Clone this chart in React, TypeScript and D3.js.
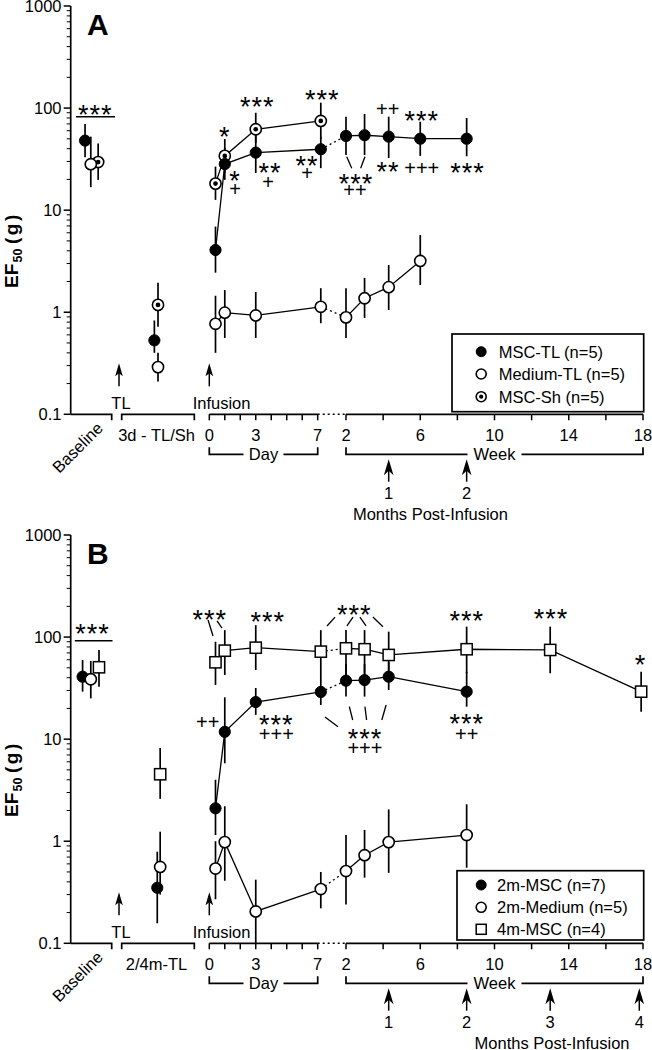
import React from 'react';
import * as d3 from 'd3';

type Seg = 'base' | 'pre' | 'day' | 'week';
type Row = [Seg, number, number, number, number]; // segment, time, mean, upper, lower
type Ann = [Seg, number, number, string]; // segment, time, value(center), text
type Lead = [Seg, number, number, number, number]; // segment, t1, v1, t2, v2
type Kind = 'filled' | 'open' | 'dot' | 'square';

const FONT = "'Liberation Sans', Arial, Helvetica, sans-serif";

// ---------- axis data
const Y_TICKS = [0.1, 1, 10, 100, 1000];
const Y_TICK_LABELS = ['0.1', '1', '10', '100', '1000'];
const DAY_TICKS = [0, 1, 2, 3, 4, 5, 6, 7];
const DAY_LABELS = [0, 3, 7];
const WEEK_TICKS = [2, 4, 6, 8, 10, 12, 14, 16, 18];
const WEEK_LABELS = [2, 6, 10, 14, 18];
const CATS_A = ['Baseline', '3d - TL/Sh'];
const CATS_B = ['Baseline', '2/4m-TL'];
const MONTHS_A = ['1', '2'];
const MONTH_WEEKS_A = [4.3, 8.5];
const MONTHS_B = ['1', '2', '3', '4'];
const MONTH_WEEKS_B = [4.3, 8.5, 13, 17.8];

// ---------- panel A series
const A_MSC_TL: Row[] = [
  ['base', 0.35, 48, 70, 33],
  ['pre', 0.45, 0.53, 0.83, 0.4],
  ['day', 0.4, 4.07, 6.9, 2.44],
  ['day', 1, 28.3, 40.7, 19.8],
  ['day', 3, 36.6, 61, 23.1],
  ['day', 7.2, 39.5, 52.5, 25.8],
  ['week', 2, 53.3, 82.4, 34.7],
  ['week', 3, 54.2, 87.5, 34.7],
  ['week', 4.3, 52.5, 82.4, 32.4],
  ['week', 6, 50.1, 73.6, 34],
  ['week', 8.5, 50.1, 80, 33.7],
];
const A_MED_TL: Row[] = [
  ['base', 0.49, 28.2, 52.5, 16.8],
  ['pre', 0.5, 0.29, 0.4, 0.21],
  ['day', 0.4, 0.77, 1.45, 0.4],
  ['day', 1, 0.99, 1.65, 0.56],
  ['day', 3, 0.93, 1.58, 0.56],
  ['day', 7.2, 1.13, 1.72, 0.78],
  ['week', 2, 0.89, 1.72, 0.56],
  ['week', 3, 1.37, 2.17, 0.88],
  ['week', 4.3, 1.76, 2.9, 1.05],
  ['week', 6, 3.18, 5.7, 1.85],
];
const A_MSC_SH: Row[] = [
  ['base', 0.67, 29.6, 45, 19.8],
  ['pre', 0.5, 1.18, 1.94, 0.72],
  ['day', 0.4, 18.2, 26.7, 12.6],
  ['day', 1, 34, 49.8, 23.1],
  ['day', 3, 62, 90, 45.5],
  ['day', 7.2, 74.8, 113, 49.8],
];

// ---------- panel B series
const B_MSC_2M: Row[] = [
  ['base', 0.29, 40.9, 59.7, 29.2],
  ['pre', 0.49, 0.35, 0.79, 0.157],
  ['day', 0.4, 2.1, 4.0, 1.15],
  ['day', 1, 11.8, 25.7, 5.8],
  ['day', 3, 23.1, 31.7, 17.3],
  ['day', 7.2, 29, 42.5, 21.6],
  ['week', 2, 37.4, 54.5, 26.1],
  ['week', 3, 37.9, 54.5, 26.1],
  ['week', 4.3, 40.9, 57, 30.3],
  ['week', 8.5, 29.2, 45.8, 20.8],
];
const B_MED_2M: Row[] = [
  ['base', 0.49, 38.6, 58.4, 25.1],
  ['pre', 0.53, 0.56, 1.24, 0.3],
  ['day', 0.4, 0.54, 1.0, 0.27],
  ['day', 1, 0.98, 2.2, 0.41],
  ['day', 3, 0.205, 0.42, 0.1],
  ['day', 7.2, 0.34, 0.5, 0.22],
  ['week', 2, 0.51, 1.15, 0.24],
  ['week', 3, 0.73, 1.29, 0.44],
  ['week', 4.3, 0.98, 2.05, 0.49],
  ['week', 8.5, 1.15, 2.3, 0.55],
];
const B_MSC_4M: Row[] = [
  ['base', 0.69, 50.6, 74.8, 32.7],
  ['pre', 0.53, 4.53, 8.2, 2.6],
  ['day', 0.4, 56.6, 90, 34],
  ['day', 1, 73.6, 117, 42.5],
  ['day', 3, 78.7, 131, 47.6],
  ['day', 7.2, 72, 117, 42.5],
  ['week', 2, 77.6, 117, 42.5],
  ['week', 3, 76, 117, 42.5],
  ['week', 4.3, 66.8, 113, 38],
  ['week', 8.5, 76, 126.5, 44.2],
  ['week', 13, 74.8, 126.5, 44.2],
  ['week', 17.9, 29.2, 45.8, 18.6],
];

// ---------- significance annotations
const ANN_A: Ann[] = [
  ['base', 0.6, 100, '***'],
  ['day', 1, 61, '*'],
  ['day', 3.1, 120, '***'],
  ['day', 7.3, 141, '***'],
  ['day', 1.66, 22.6, '*'],
  ['day', 1.66, 16.1, '+'],
  ['day', 3.92, 27.1, '**'],
  ['day', 3.79, 18.9, '+'],
  ['day', 6.31, 31.7, '**'],
  ['day', 6.31, 23.1, '+'],
  ['week', 4.25, 98, '++'],
  ['week', 6.08, 87.5, '***'],
  ['week', 2.54, 21.3, '***'],
  ['week', 2.48, 15.8, '++'],
  ['week', 4.26, 27.7, '**'],
  ['week', 6.08, 26.1, '+++'],
  ['week', 8.54, 27.1, '***'],
];
const LEAD_A: Lead[] = [
  ['week', 2.04, 33.4, 2.31, 25.7],
  ['week', 3.02, 33.4, 2.79, 25.7],
];
const ANN_B: Ann[] = [
  ['base', 0.53, 126.5, '***'],
  ['day', 0.03, 171, '***'],
  ['day', 3.77, 164.6, '***'],
  ['week', 2.45, 191, '***'],
  ['week', 8.5, 168, '***'],
  ['week', 13.04, 177, '***'],
  ['week', 17.87, 62, '*'],
  ['day', -0.1, 14.8, '++'],
  ['day', 4.33, 16.0, '***'],
  ['day', 4.33, 11.2, '+++'],
  ['week', 3.02, 11.8, '***'],
  ['week', 3.02, 8.15, '+++'],
  ['week', 8.5, 16.4, '***'],
  ['week', 8.5, 11.2, '++'],
];
const LEAD_B: Lead[] = [
  ['day', -0.08, 147, 0.24, 102.5],
  ['day', 0.5, 144, 0.82, 122.7],
  ['day', 8.12, 157, 7.6, 128.5],
  ['week', 2.38, 157, 2.05, 128.5],
  ['week', 2.75, 157, 3.08, 128.5],
  ['week', 3.45, 157, 3.99, 126],
  ['day', 7.47, 16.5, 8.31, 13.2],
  ['week', 2.18, 20.8, 2.36, 15.4],
  ['week', 3.02, 20.8, 3.11, 15.4],
  ['week', 4.16, 21.6, 3.93, 15.4],
];
// baseline bar under the baseline stars: [t1, t2, value]
const BAR_A: [number, number, number] = [0.13, 1.08, 82.4];
const BAR_B: [number, number, number] = [0.1, 1.02, 92.2];

// ---------- x scales (shared by both panels)
const baseX = d3.scaleLinear().domain([0, 1]).range([70.7, 111.7]);
const preX = d3.scaleLinear().domain([0, 1]).range([121.7, 194.3]);
const dayX = d3.scaleLinear().domain([0, 7]).range([209.3, 317.7]);
const weekX = d3.scaleLinear().domain([2, 18]).range([346, 643]);
const xOf = (s: Seg, t: number) =>
  s === 'base' ? baseX(t) : s === 'pre' ? preX(t) : s === 'day' ? dayX(t) : weekX(t);

function Marker({ kind, x, y, r = 5.6 }: { kind: Kind; x: number; y: number; r?: number }) {
  if (kind === 'filled') return <circle cx={x} cy={y} r={r} fill="#000" stroke="#000" strokeWidth={1} />;
  if (kind === 'open') return <circle cx={x} cy={y} r={r} fill="#fff" stroke="#000" strokeWidth={1.6} />;
  if (kind === 'dot')
    return (
      <g>
        <circle cx={x} cy={y} r={r} fill="#fff" stroke="#000" strokeWidth={1.6} />
        <circle cx={x} cy={y} r={r * 0.42} fill="#000" />
      </g>
    );
  return <rect x={x - r} y={y - r} width={2 * r} height={2 * r} fill="#fff" stroke="#000" strokeWidth={1.5} />;
}

interface SeriesCfg { name: string; rows: Row[]; kind: Kind; }
interface PanelCfg {
  top: number;
  letter: string;
  cats: string[];
  series: SeriesCfg[];
  drawOrder: number[];
  ann: Ann[];
  leads: Lead[];
  bar: [number, number, number];
  months: string[];
  monthWeeks: number[];
  monthsLabelX: number;
  legend: { x: number; y: number; w: number; h: number; rowY: number[]; textX: number };
}

function Panel({ cfg }: { cfg: PanelCfg }) {
  const top = cfg.top;
  const y = d3.scaleLog().domain([0.1, 1000]).range([top + 414.3, top + 6]);
  const axY = y(0.1);
  const line = d3.line<Row>().x((r) => xOf(r[0], r[1])).y((r) => y(r[2]));
  const minor: number[] = [];
  [0.1, 1, 10, 100].forEach((d) => { for (let k = 2; k <= 9; k++) minor.push(d * k); });
  const sw = 1.7;
  const txt = { fontFamily: FONT, fontSize: 16.5, fill: '#000' } as const;

  const annText = (a: Ann, i: number) => {
    const isStar = a[3].includes('*');
    const fs = isStar ? 27 : 20;
    const off = isStar ? 0.589 * fs : 0.354 * fs;
    return (
      <text key={'an' + i} x={xOf(a[0], a[1])} y={y(a[2]) + off} textAnchor="middle"
        fontFamily={FONT} fontSize={fs} letterSpacing={isStar ? 1 : 0}>{a[3]}</text>
    );
  };

  const arrowUp = (x: number, tip: number, bot: number, key: string) => (
    <g key={key}>
      <line x1={x} y1={tip + 8} x2={x} y2={bot} stroke="#000" strokeWidth={1.5} />
      <path d={`M${x},${tip} L${x - 3.8},${tip + 13} L${x},${tip + 10} L${x + 3.8},${tip + 13} Z`} fill="#000" />
    </g>
  );
  const monthArrow = (x: number, key: string) => (
    <g key={key}>
      <line x1={x} y1={axY + 55} x2={x} y2={axY + 67.4} stroke="#000" strokeWidth={1.5} />
      <path d={`M${x},${axY + 45} L${x - 4.8},${axY + 61} L${x},${axY + 56.5} L${x + 4.8},${axY + 61} Z`} fill="#000" />
    </g>
  );

  const bracket = (x1: number, x2: number, label: string, gap: number) => {
    const by = axY + 40;
    const cx = (x1 + x2) / 2;
    return (
      <g>
        <path d={`M${x1},${by - 7} V${by} H${cx - gap / 2} M${cx + gap / 2},${by} H${x2} V${by - 7}`}
          fill="none" stroke="#000" strokeWidth={sw} />
        <text x={cx} y={by + 6} textAnchor="middle" {...txt}>{label}</text>
      </g>
    );
  };

  const L = cfg.legend;
  return (
    <g>
      {/* panel letter */}
      <text x={87} y={top + 35} fontFamily={FONT} fontWeight="bold" fontSize={30}>{cfg.letter}</text>
      {/* y axis */}
      <line x1={70.7} y1={y(1000)} x2={70.7} y2={axY} stroke="#000" strokeWidth={sw} />
      {Y_TICKS.map((v, i) => (
        <g key={'yt' + i}>
          <line x1={63.7} x2={70.7} y1={y(v)} y2={y(v)} stroke="#000" strokeWidth={1.5} />
          <text x={61.5} y={y(v) + 5.9} textAnchor="end" {...txt}>{Y_TICK_LABELS[i]}</text>
        </g>
      ))}
      {minor.map((v, i) => (
        <line key={'ym' + i} x1={66.7} x2={70.7} y1={y(v)} y2={y(v)} stroke="#000" strokeWidth={1} />
      ))}
      <g transform={`translate(18,${top + 288}) rotate(-90)`} fontFamily={FONT} fontWeight="bold">
        <text x={0} y={0} fontSize={19}>EF</text>
        <text x={25.5} y={4} fontSize={12.5}>50</text>
        <text x={44} y={0} fontSize={19} letterSpacing={2.5}>{'(g)'}</text>
      </g>

      {/* x axis segments */}
      <path d={`M70.7,${axY} H${baseX(1)} v6`} fill="none" stroke="#000" strokeWidth={sw} />
      <path d={`M${preX(0)},${axY + 6} v-6 H${preX(1)} v6`} fill="none" stroke="#000" strokeWidth={sw} />
      <line x1={dayX(0)} x2={dayX(7)} y1={axY} y2={axY} stroke="#000" strokeWidth={sw} />
      {DAY_TICKS.map((d) => (
        <line key={'dt' + d} x1={dayX(d)} x2={dayX(d)} y1={axY} y2={axY + 6} stroke="#000" strokeWidth={1.5} />
      ))}
      <line x1={dayX(7)} x2={weekX(2)} y1={axY} y2={axY} stroke="#000" strokeWidth={1.5} strokeDasharray="2,3" />
      <line x1={weekX(2)} x2={weekX(18)} y1={axY} y2={axY} stroke="#000" strokeWidth={sw} />
      {WEEK_TICKS.map((w) => (
        <line key={'wt' + w} x1={weekX(w)} x2={weekX(w)} y1={axY} y2={axY + 6} stroke="#000" strokeWidth={1.5} />
      ))}
      {DAY_LABELS.map((d) => (
        <text key={'dl' + d} x={dayX(d)} y={axY + 26.6} textAnchor="middle" {...txt}>{d}</text>
      ))}
      {WEEK_LABELS.map((w) => (
        <text key={'wl' + w} x={weekX(w)} y={axY + 26.6} textAnchor="middle" {...txt}>{w}</text>
      ))}
      <text transform={`translate(104,${axY + 15}) rotate(-45)`} textAnchor="end" {...txt}>{cfg.cats[0]}</text>
      <text x={preX(0.48)} y={axY + 26.6} textAnchor="middle" {...txt}>{cfg.cats[1]}</text>
      {bracket(dayX(0), dayX(7), 'Day', 40)}
      {bracket(weekX(2), weekX(18), 'Week', 54)}

      {/* TL / infusion arrows */}
      {arrowUp(119, axY - 51, axY - 28, 'tl')}
      {arrowUp(dayX(0), axY - 51, axY - 28, 'inf')}
      <text x={121} y={axY - 5} textAnchor="middle" {...txt}>TL</text>
      <text x={192.7} y={axY - 5} {...txt}>Infusion</text>

      {/* months */}
      {cfg.monthWeeks.map((w, i) => monthArrow(weekX(w), 'ma' + i))}
      {cfg.monthWeeks.map((w, i) => (
        <text key={'ml' + i} x={weekX(w)} y={axY + 84.3} textAnchor="middle" {...txt}>{cfg.months[i]}</text>
      ))}
      <text x={cfg.monthsLabelX} y={axY + 105.5} textAnchor="middle" {...txt}>Months Post-Infusion</text>

      {/* legend */}
      <rect x={L.x} y={axY + L.y} width={L.w} height={L.h} fill="#fff" stroke="#000" strokeWidth={sw} />
      {cfg.series.map((s, i) => (
        <g key={'lg' + i}>
          <Marker kind={s.kind} x={481.2} y={axY + L.rowY[i]} r={5} />
          <text x={L.textX} y={axY + L.rowY[i] + 5.9} {...txt}>{s.name}</text>
        </g>
      ))}

      {/* baseline significance bar */}
      <line x1={baseX(cfg.bar[0])} x2={baseX(cfg.bar[1])} y1={y(cfg.bar[2])} y2={y(cfg.bar[2])} stroke="#000" strokeWidth={1.5} />
      {cfg.ann.map(annText)}
      {cfg.leads.map((l, i) => (
        <line key={'ld' + i} x1={xOf(l[0], l[1])} y1={y(l[2])} x2={xOf(l[0], l[3])} y2={y(l[4])} stroke="#000" strokeWidth={1.3} />
      ))}

      {/* connecting lines */}
      {cfg.series.map((s, i) => {
        const days = s.rows.filter((r) => r[0] === 'day');
        const weeks = s.rows.filter((r) => r[0] === 'week');
        return (
          <g key={'ln' + i} fill="none" stroke="#000" strokeWidth={1.3}>
            {days.length > 1 && <path d={line(days) || ''} />}
            {weeks.length > 1 && <path d={line(weeks) || ''} />}
            {days.length > 0 && weeks.length > 0 && (
              <path d={line([days[days.length - 1], weeks[0]]) || ''} strokeDasharray="2,3" />
            )}
          </g>
        );
      })}
      {/* error bars */}
      {cfg.series.map((s, i) => (
        <g key={'eb' + i} stroke="#000" strokeWidth={1.7}>
          {s.rows.map((r, j) => (
            <line key={j} x1={xOf(r[0], r[1])} x2={xOf(r[0], r[1])} y1={y(r[3])} y2={y(r[4])} />
          ))}
        </g>
      ))}
      {/* markers */}
      {cfg.drawOrder.map((si) => (
        <g key={'mk' + si}>
          {cfg.series[si].rows.map((r, j) => (
            <Marker key={j} kind={cfg.series[si].kind} x={xOf(r[0], r[1])} y={y(r[2])} />
          ))}
        </g>
      ))}
    </g>
  );
}

const PANEL_A: PanelCfg = {
  top: 0,
  letter: 'A',
  cats: CATS_A,
  series: [
    { name: 'MSC-TL (n=5)', rows: A_MSC_TL, kind: 'filled' },
    { name: 'Medium-TL (n=5)', rows: A_MED_TL, kind: 'open' },
    { name: 'MSC-Sh (n=5)', rows: A_MSC_SH, kind: 'dot' },
  ],
  drawOrder: [2, 1, 0],
  ann: ANN_A,
  leads: LEAD_A,
  bar: BAR_A,
  months: MONTHS_A,
  monthWeeks: MONTH_WEEKS_A,
  monthsLabelX: weekX(6.55),
  legend: { x: 452, y: -80.3, w: 191.7, h: 77.7, rowY: [-62.6, -40.3, -17.6], textX: 498.7 },
};

const PANEL_B: PanelCfg = {
  top: 529,
  letter: 'B',
  cats: CATS_B,
  series: [
    { name: '2m-MSC (n=7)', rows: B_MSC_2M, kind: 'filled' },
    { name: '2m-Medium (n=5)', rows: B_MED_2M, kind: 'open' },
    { name: '4m-MSC (n=4)', rows: B_MSC_4M, kind: 'square' },
  ],
  drawOrder: [0, 1, 2],
  ann: ANN_B,
  leads: LEAD_B,
  bar: BAR_B,
  months: MONTHS_B,
  monthWeeks: MONTH_WEEKS_B,
  monthsLabelX: weekX(13.1),
  legend: { x: 457, y: -72.6, w: 186.7, h: 69.3, rowY: [-58.3, -36, -14], textX: 497 },
};

export default function App() {
  return (
    <svg width={652} height={1050} viewBox="0 0 652 1050"
      style={{ position: 'absolute', left: 0, top: 0, background: '#fff' }}>
      <rect x={0} y={0} width={652} height={1050} fill="#fff" />
      <Panel cfg={PANEL_A} />
      <Panel cfg={PANEL_B} />
    </svg>
  );
}
